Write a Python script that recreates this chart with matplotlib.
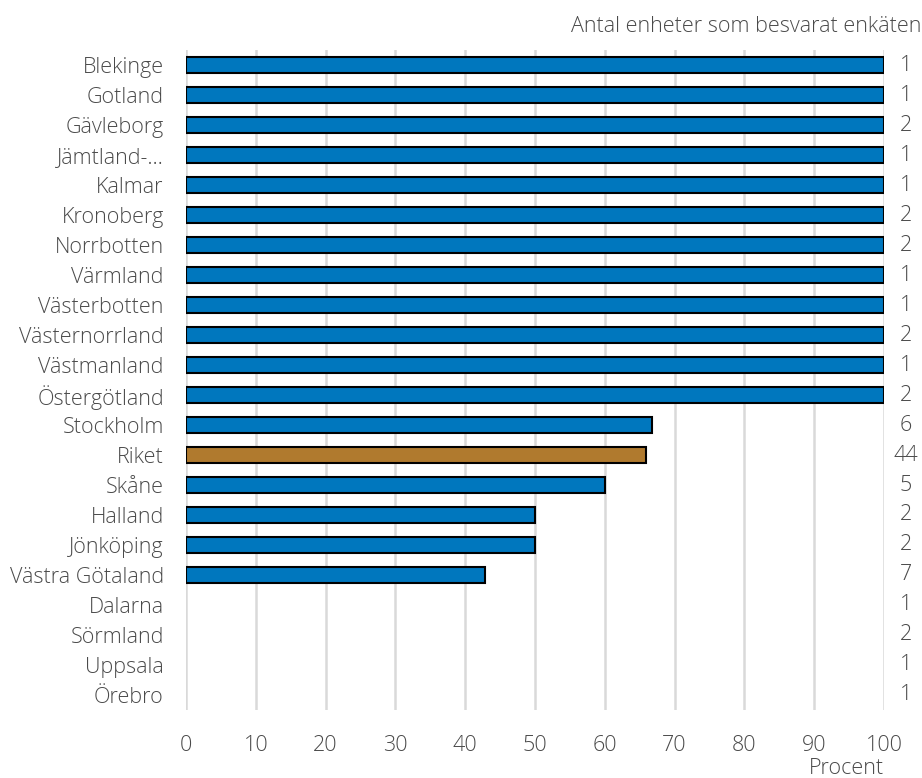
import matplotlib
matplotlib.use("Agg")
import matplotlib.pyplot as plt
import matplotlib.transforms as mtransforms

plt.rcParams['font.family'] = ['Open Sans', 'DejaVu Sans']

regions = ["Blekinge", "Gotland", "Gävleborg", "Jämtland-…", "Kalmar", "Kronoberg",
           "Norrbotten", "Värmland", "Västerbotten", "Västernorrland", "Västmanland",
           "Östergötland", "Stockholm", "Riket", "Skåne", "Halland", "Jönköping",
           "Västra Götaland", "Dalarna", "Sörmland", "Uppsala", "Örebro"]
percent = [100, 100, 100, 100, 100, 100, 100, 100, 100, 100, 100, 100,
           66.7, 65.9, 60, 50, 50, 42.9, 0, 0, 0, 0]
counts = [1, 1, 2, 1, 1, 2, 2, 1, 1, 2, 1, 2, 6, 44, 5, 2, 2, 7, 1, 2, 1, 1]
xticks = list(range(0, 101, 10))

blue = "#0077be"
gold = "#b07a2e"
text_col = "#4a4a4a"
fw = "light"
fs = 15.5

fig = plt.figure(figsize=(9.22, 7.78), dpi=100)
ax = fig.add_axes([186 / 922, 1 - 710 / 778, (884 - 186) / 922, 660 / 778])

ypos = list(range(len(regions)))
colors = [gold if r == "Riket" else blue for r in regions]
bar_vals = [v if v > 0 else float("nan") for v in percent]
ax.barh(ypos, bar_vals, height=0.53, color=colors, edgecolor="black",
        linewidth=1.5, zorder=3)

ax.set_ylim(len(regions) - 0.5, -0.5)
ax.set_xlim(0, 100)
ax.set_xticks(xticks)
ax.set_xticklabels([str(t) for t in xticks], fontsize=fs, color=text_col,
                   fontweight=fw)
ax.set_yticks(ypos)
ax.set_yticklabels(regions, fontsize=fs, color=text_col, fontweight=fw)
ax.tick_params(axis="both", length=0)
ax.tick_params(axis="y", pad=16)
ax.tick_params(axis="x", pad=18)
ax.grid(axis="x", color="#d9d9d9", linewidth=1.8, zorder=0)
ax.set_axisbelow(True)
for s in ax.spines.values():
    s.set_visible(False)

trans = mtransforms.blended_transform_factory(ax.transAxes, ax.transData)
cx = (906 - 186) / (884 - 186)
for y, c in zip(ypos, counts):
    ax.text(cx, y, str(c), transform=trans, ha="center", va="center",
            fontsize=fs, color=text_col, fontweight=fw)

fig.text(921 / 922, 1 - 27 / 778, "Antal enheter som besvarat enkäten",
         ha="right", va="center", fontsize=fs, color=text_col, fontweight=fw)
fig.text(884 / 922, 1 - 768 / 778, "Procent", ha="right", va="center",
         fontsize=fs, color=text_col, fontweight=fw)

fig.savefig("out.png", dpi=100)
